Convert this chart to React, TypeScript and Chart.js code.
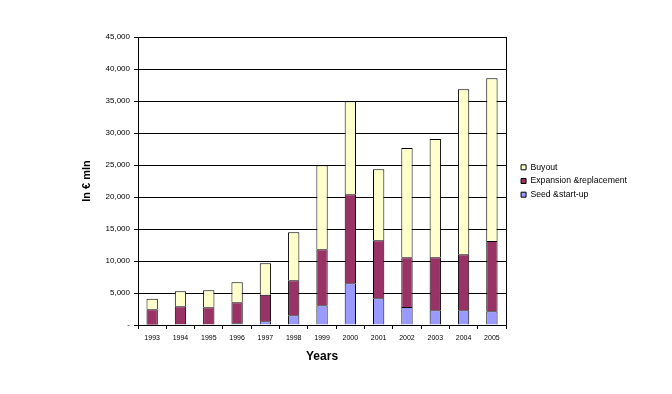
import React, { useEffect, useRef } from "react";
import { Chart, registerables } from "chart.js";

Chart.register(...registerables);

const years = ["1993", "1994", "1995", "1996", "1997", "1998", "1999", "2000", "2001", "2002", "2003", "2004", "2005"];
const seedStartUp = [50, 150, 150, 260, 570, 1510, 3070, 6510, 4170, 2810, 2290, 2290, 2140];
const expansionReplacement = [2400, 2770, 2610, 3280, 4170, 5470, 8750, 13910, 9060, 7760, 8280, 8750, 10980];
const buyout = [1650, 2340, 2660, 3130, 4900, 7500, 13130, 14530, 11090, 17080, 18490, 25790, 25420];

const yMax = 45000;
const yStep = 5000;

const frame = {
  id: "frame",
  afterLayout(chart: any) {
    const l = chart.legend;
    if (l) {
      l.left += 10;
      l.right += 10;
    }
  },
  afterDatasetsDraw(chart: any) {
    const { ctx, chartArea } = chart;
    ctx.save();
    ctx.strokeStyle = "#000";
    ctx.lineWidth = 1;
    ctx.beginPath();
    ctx.moveTo(Math.round(chartArea.right) + 0.5, chartArea.top);
    ctx.lineTo(Math.round(chartArea.right) + 0.5, chartArea.bottom);
    ctx.stroke();
    ctx.restore();
  },
};

export default function App() {
  const ref = useRef<HTMLCanvasElement>(null);
  useEffect(() => {
    const chart = new Chart(ref.current!, {
      type: "bar",
      data: {
        labels: years,
        datasets: [
          { label: "Seed &start-up", data: seedStartUp, backgroundColor: "#9999FF", borderColor: "#000", borderWidth: 1 },
          { label: "Expansion &replacement", data: expansionReplacement, backgroundColor: "#993366", borderColor: "#000", borderWidth: 1 },
          { label: "Buyout", data: buyout, backgroundColor: "#FFFFCC", borderColor: "#000", borderWidth: 1 },
        ],
      },
      plugins: [frame],
      options: {
        animation: false,
        responsive: false,
        devicePixelRatio: 1,
        layout: { padding: { left: 80, top: 37, right: 45, bottom: 30 } },
        datasets: { bar: { barPercentage: 0.4, categoryPercentage: 1 } },
        plugins: {
          tooltip: { enabled: false },
          legend: {
            position: "right",
            fullSize: false,
            reverse: true,
            labels: {
              boxWidth: 5,
              boxHeight: 5,
              padding: 5,
              color: "#000",
              font: { family: "Liberation Sans", size: 8.7 },
            },
          },
        },
        scales: {
          x: {
            stacked: true,
            grid: { offset: true, drawOnChartArea: false, color: "#000", tickLength: 4 },
            border: { color: "#000" },
            ticks: { color: "#000", padding: 5, maxRotation: 0, autoSkip: false, font: { family: "Liberation Sans", size: 7 } },
            title: { display: true, text: "Years", color: "#000", padding: 0, font: { family: "Liberation Sans", size: 12, weight: "bold" } },
            afterFit(scale: any) { scale.height = 39; },
          },
          y: {
            stacked: true,
            min: 0,
            max: yMax,
            grid: { color: "#000", tickLength: 4 },
            border: { color: "#000" },
            ticks: {
              stepSize: yStep,
              color: "#000",
              padding: 4,
              font: { family: "Liberation Sans", size: 8 },
              callback: (v: any) => (v === 0 ? "-" : Number(v).toLocaleString("en-US")),
            },
            title: { display: true, text: "In € mln", color: "#000", padding: 0, font: { family: "Liberation Sans", size: 11, weight: "bold" } },
            afterFit(scale: any) { scale.width = 58; },
          },
        },
      },
    });
    return () => chart.destroy();
  }, []);
  return (
    <div style={{ position: "absolute", left: 0, top: 0, width: 672, height: 394 }}>
      <canvas ref={ref} width={672} height={394} />
    </div>
  );
}
